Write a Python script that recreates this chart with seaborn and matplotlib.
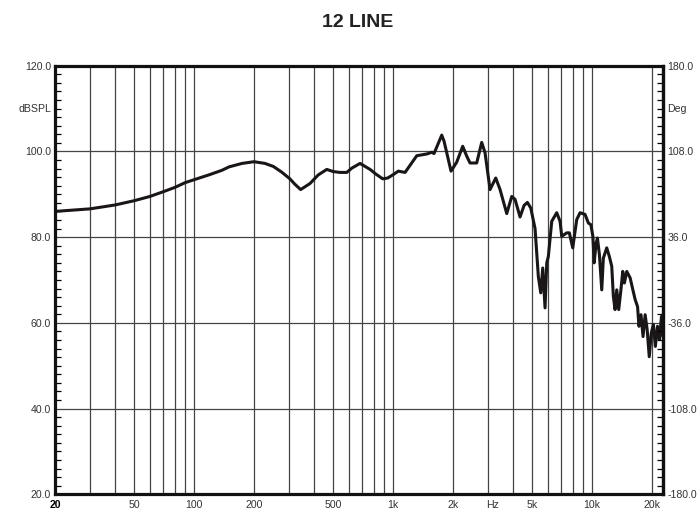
import numpy as np
import pandas as pd
import matplotlib
matplotlib.use("Agg")
import matplotlib.pyplot as plt
from matplotlib.transforms import blended_transform_factory
import seaborn as sns

# Frequency response of the "12 LINE" driver (Hz, dB SPL)
freq_hz = [20, 30, 40, 50, 60, 70, 80, 90, 100, 120, 138, 150, 174, 200, 227, 250,
           275, 303, 320, 343, 382, 420, 464, 500, 541, 585, 620, 682, 766, 820, 887,
           940, 1002, 1062, 1148, 1315, 1476, 1563, 1605, 1755, 1802, 1954, 2087, 2237,
           2343, 2434, 2630, 2787, 2896, 3069, 3278, 3446, 3723, 3945, 4099, 4343,
           4549, 4726, 4916, 5166, 5366, 5517, 5647, 5799, 5915, 6025, 6266, 6638,
           6897, 7033, 7455, 7682, 7989, 8368, 8695, 9212, 9571, 9853, 10085, 10236,
           10473, 10631, 10878, 11176, 11384, 11839, 12200, 12545, 12780, 13035,
           13293, 13600, 13920, 14250, 14520, 14930, 15520, 16020, 16455, 16910,
           17190, 17600, 18020, 18460, 18900, 19360, 19820, 20300, 20780, 21290,
           21790, 22300, 22700]
spl_db = [86.0, 86.6, 87.5, 88.5, 89.5, 90.6, 91.6, 92.7, 93.4, 94.6, 95.6, 96.4, 97.2,
          97.6, 97.2, 96.5, 95.2, 93.6, 92.4, 91.1, 92.5, 94.5, 95.8, 95.3, 95.1, 95.1,
          96.1, 97.2, 95.8, 94.7, 93.6, 93.8, 94.6, 95.4, 95.1, 99.0, 99.4, 99.8, 99.5,
          103.8, 102.4, 95.4, 97.5, 101.2, 98.9, 97.3, 97.3, 102.1, 99.7, 91.1, 93.8,
          91.1, 85.5, 89.5, 88.8, 84.7, 87.4, 88.1, 86.8, 82.0, 70.8, 67.0, 72.8, 63.5,
          74.0, 75.5, 83.7, 85.7, 83.7, 80.2, 81.0, 81.0, 77.5, 84.1, 85.7, 85.3, 83.3,
          82.9, 80.2, 74.0, 78.6, 79.8, 75.9, 67.7, 75.1, 77.5, 75.5, 73.2, 66.2, 63.1,
          67.7, 63.1, 67.3, 72.0, 69.3, 72.0, 70.5, 67.7, 65.4, 63.8, 59.2, 61.9, 56.8,
          61.9, 58.4, 52.1, 57.6, 59.6, 54.5, 59.2, 56.1, 61.5, 56.8]

# Axis labelling
x_tick_pos = [20, 50, 100, 200, 500, 1000, 2000, 3150, 5000, 10000, 20000]
x_tick_txt = ["20", "50", "100", "200", "500", "1k", "2k", "Hz", "5k", "10k", "20k"]
x_grid = [30, 40, 50, 60, 70, 80, 90, 100, 200, 300, 400, 500, 600, 700, 800, 900,
          1000, 2000, 3000, 4000, 5000, 6000, 7000, 8000, 9000, 10000, 20000]
spl_ticks = [20, 40, 60, 80, 100, 120]
deg_ticks = [-180, -108, -36, 36, 108, 180]

df = pd.DataFrame({"Frequency": freq_hz, "SPL": spl_db})

sns.set_style("white")
plt.rcParams["font.family"] = ["Liberation Sans", "DejaVu Sans"]

fig = plt.figure(figsize=(7.0, 5.13), dpi=100)
ax = fig.add_axes([55 / 700, 1 - 494.3 / 513, (663 - 55) / 700, (494.3 - 65.7) / 513])

sns.lineplot(data=df, x="Frequency", y="SPL", ax=ax, color="#1a1617",
             linewidth=2.2, zorder=5, estimator=None, sort=False)

ax.set_xscale("log")
ax.set_xlim(20, 22700)
ax.set_ylim(20, 120)
ax.set_xlabel("")
ax.set_ylabel("")

text_col = "#333333"
ax.set_xticks(x_tick_pos)
ax.set_xticklabels(x_tick_txt, fontsize=7.6, color=text_col)
ax.get_xticklabels()[0].set_fontweight("bold")
ax.get_xticklabels()[0].set_color("black")
ax.xaxis.set_minor_locator(matplotlib.ticker.NullLocator())
ax.tick_params(axis="x", which="both", length=0, pad=4)

ax.set_yticks(spl_ticks)
ax.set_yticklabels([f"{v:.1f}" for v in spl_ticks], fontsize=7.6, color=text_col)
ax.set_yticks(np.arange(20, 121, 2), minor=True)
ax.tick_params(axis="y", which="major", length=0, pad=3)
ax.tick_params(axis="y", which="minor", direction="in", length=4, width=0.9,
               color="black", left=True)

ax.grid(False)
ax.grid(True, axis="y", which="major", color="#444444", linewidth=0.9)
for f in x_grid:
    ax.axvline(f, color="#444444", linewidth=0.9, zorder=1)

for s in ax.spines.values():
    s.set_visible(True)
    s.set_linewidth(2.3)
    s.set_color("#111111")
    s.set_zorder(6)

# Phase axis on the right
ax2 = ax.twinx()
ax2.set_ylim(-180, 180)
ax2.set_yticks(deg_ticks)
ax2.set_yticklabels([f"{v:.1f}" for v in deg_ticks], fontsize=7.6, color=text_col)
ax2.set_yticks(np.arange(-180, 180.1, 7.2), minor=True)
ax2.tick_params(axis="y", which="major", length=0, pad=3)
ax2.tick_params(axis="y", which="minor", direction="in", length=4, width=0.9,
                color="black", right=True)
ax2.grid(False)
for name, s in ax2.spines.items():
    s.set_visible(name == "right")
    s.set_linewidth(2.3)
    s.set_color("#111111")

# Unit labels beside the value axes
trL = blended_transform_factory(ax.transAxes, ax.transData)
ax.text(-0.006, 110, "dBSPL", transform=trL, ha="right", va="center",
        fontsize=7.6, color=text_col)
ax.text(1.006, 110, "Deg", transform=trL, ha="left", va="center",
        fontsize=7.6, color=text_col)

fig.text(357.7 / 700, 1 - 26.7 / 513, "12 LINE", ha="center", va="baseline",
         fontsize=14, fontweight="bold", color="#222222")

fig.savefig("out.png", dpi=100, facecolor="white")
